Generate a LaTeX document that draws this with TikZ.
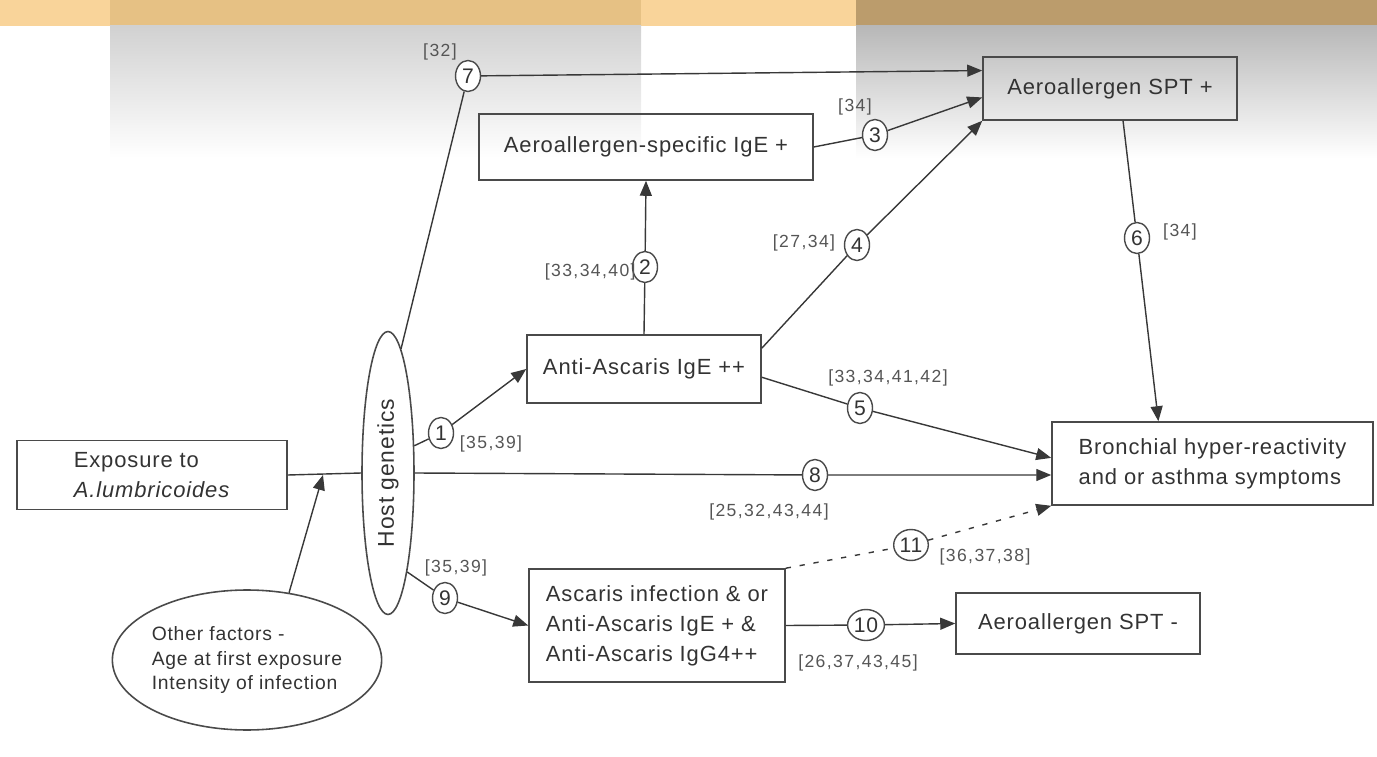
\documentclass[tikz,border=0pt]{standalone}
\usepackage{fontspec}
\setmainfont[LetterSpace=4]{Liberation Sans}
\newfontfamily\reffont[LetterSpace=8]{Liberation Sans}
\usepackage{tikz}
\usetikzlibrary{arrows.meta}
\usetikzlibrary{shapes.geometric}
\usepackage{xcolor}
\definecolor{bandlight}{HTML}{F9D49A}
\definecolor{bandtan}{HTML}{E6C184}
\definecolor{bandbrown}{HTML}{BB9C6C}
\definecolor{boxline}{HTML}{4A4A4A}
\definecolor{lines}{HTML}{383838}
\definecolor{txt}{HTML}{333333}
\definecolor{reftxt}{HTML}{555555}

\begin{document}
\begin{tikzpicture}[x=0.02cm,y=-0.02cm,
	box/.style={draw=boxline,line width=0.9pt,text=txt,font=\fontsize{12.5}{17}\selectfont,inner sep=2pt},
	oval/.style={draw=boxline,line width=0.9pt,ellipse,text=txt,inner sep=0pt},
	num/.style={draw=boxline,ellipse,fill=white,line width=0.8pt,inner sep=0.5pt,minimum width=0.5cm,minimum height=0.62cm,text=txt,font=\fontsize{12}{12}\selectfont},
	ref/.style={text=reftxt,font=\reffont\fontsize{10}{10}\selectfont,inner sep=0pt},
	link/.style={draw=lines,line width=0.8pt},
	arr/.style={link,-{Triangle[length=3mm,width=2.4mm]}}]
		\useasboundingbox (0,0) rectangle (1377,757);
		\fill[bandlight] (0,0) rectangle (1377,26);
		\fill[bandtan] (110,0) rectangle (641,26);
		\fill[bandbrown] (856,0) rectangle (1377,26);
		\shade[top color=black!18,bottom color=white] (110,26) rectangle (641,158);
		\shade[top color=black!28,bottom color=white] (856,26) rectangle (1377,158);
		
		\node[box,minimum width=5.4cm,minimum height=1.38cm,align=left] (expo) at (152,475) {Exposure to\\\textit{A.lumbricoides}};
		\node[oval,rotate=90,minimum width=5.66cm,minimum height=1.04cm,font=\fontsize{13}{13}\selectfont] (host) at (388,473) {Host genetics};
		\node[oval,minimum width=5.36cm,minimum height=2.8cm,align=left,font=\fontsize{11}{14.2}\selectfont] (other) at (247,660) {Other factors -\\Age at first exposure\\Intensity of infection};
		\node[box,minimum width=6.68cm,minimum height=1.32cm] (aspec) at (646,147) {Aeroallergen-specific IgE +};
		\node[box,minimum width=5.08cm,minimum height=1.26cm] (sptp) at (1110,88.5) {Aeroallergen SPT +};
		\node[box,minimum width=4.68cm,minimum height=1.36cm] (anti) at (644,369) {Anti-Ascaris IgE ++};
		\node[box,minimum width=6.42cm,minimum height=1.66cm,align=left] (bhr) at (1212.5,463.5) {Bronchial hyper-reactivity\\and or asthma symptoms};
		\node[box,minimum width=5.12cm,minimum height=2.26cm,align=left] (infect) at (657,625.5) {Ascaris infection \& or\\Anti-Ascaris IgE + \&\\Anti-Ascaris IgG4++};
		\node[box,minimum width=4.88cm,minimum height=1.22cm] (sptm) at (1078,623.5) {Aeroallergen SPT -};
		
		\node[num] (n1) at (441,433) {1};
		\node[num] (n2) at (645,267) {2};
		\node[num] (n3) at (875,135) {3};
		\node[num] (n4) at (857,245) {4};
		\node[num] (n5) at (860,408) {5};
		\node[num] (n6) at (1137,238) {6};
		\node[num] (n7) at (468,76) {7};
		\node[num] (n8) at (815,475) {8};
		\node[num] (n9) at (445,598) {9};
		\node[num] (n10) at (866,625) {10};
		\node[num] (n11) at (911,545) {11};
		
		\node[ref] (r1) at (491,444) {[35,39]};
		\node[ref,anchor=east] (r2) at (636,272) {[33,34,40]};
		\node[ref] (r3) at (855,107) {[34]};
		\node[ref] (r4) at (804,243) {[27,34]};
		\node[ref] (r5) at (888,378) {[33,34,41,42]};
		\node[ref] (r6) at (1180,232) {[34]};
		\node[ref] (r7) at (440,52) {[32]};
		\node[ref] (r8) at (769,512) {[25,32,43,44]};
		\node[ref] (r9) at (456,568) {[35,39]};
		\node[ref] (r10) at (858,663) {[26,37,43,45]};
		\node[ref] (r11) at (985,557) {[36,37,38]};
		
		\coordinate (join) at (323,475);
		\draw[link] (expo.east) -- (host.north);
		\draw[arr] (other.58) -- (join);
		\draw[arr] (host.-44) -- (n1) -- (anti.west);
		\draw[arr] (anti.north) -- (n2) -- (aspec.south);
		\draw[arr] (aspec.east) -- (n3) -- (sptp.184);
		\draw[arr] (anti.10) -- (n4) -- (sptp.south west);
		\draw[arr] (anti.-4) -- (n5) -- (bhr.178);
		\draw[arr] (sptp.-68) -- (n6) -- (bhr.142);
		\draw[arr] (host.-6) -- (n7) -- (sptp.172);
		\draw[arr] (host.south) -- (n8) -- (n8 -| bhr.west);
		\draw[arr] (host.-169) -- (n9) -- (infect.west);
		\draw[arr] (infect.east) -- (n10) -- (sptm.west);
		\draw[arr,dash pattern=on 3pt off 5pt] (infect.north east) -- (n11) -- (bhr.south west);
	\end{tikzpicture}
\end{document}
